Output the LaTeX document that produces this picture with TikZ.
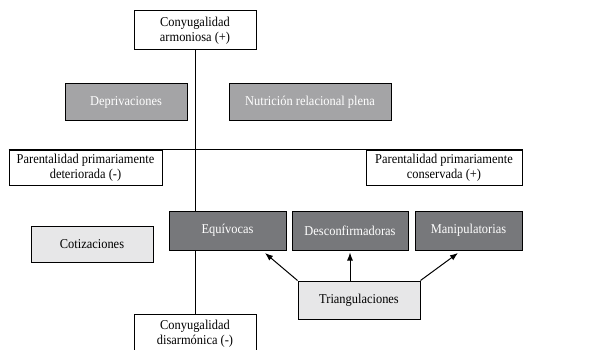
\documentclass[tikz,border=0pt]{standalone}
\usepackage{fontspec}
\setmainfont{Liberation Serif}[FakeStretch=0.92]
\usepackage{tikz}
\usetikzlibrary{positioning, arrows.meta}
\definecolor{midgray}{HTML}{A4A4A6}
\definecolor{darkgray}{HTML}{77787B}
\definecolor{lightgray}{HTML}{E7E7E8}
\tikzset{
  block/.style={rectangle, draw, line width=1pt, inner sep=0pt, align=center, font=\fontsize{13.5}{15}\selectfont},
  whiteblock/.style={block, fill=white},
  midblock/.style={block, fill=midgray, text=white},
  darkblock/.style={block, fill=darkgray, text=white},
  lightblock/.style={block, fill=lightgray},
  arrow/.style={-{Latex[length=8pt,width=6pt]}, line width=1pt},
}

\begin{document}
\begin{tikzpicture}[x=1pt, y=-1pt]
  \useasboundingbox (0,0) rectangle (602,350);

  % Conyugalidad axis
  \node[whiteblock, minimum width=122pt, minimum height=39pt] (armon) at (195,30.5) {Conyugalidad\\armoniosa (+)};
  \node[whiteblock, minimum width=122pt, minimum height=39pt] (disarm) at (195,333.5) {Conyugalidad\\disarmónica (-)};

  % Upper quadrants
  \node[midblock, minimum width=122pt, minimum height=37pt] (depriv) at (126,102.5) {Deprivaciones};
  \node[midblock, minimum width=162pt, minimum height=37pt] (nutric) at (310,102.5) {Nutrición relacional plena};

  % Parentalidad axis
  \node[whiteblock, minimum width=153pt, minimum height=35pt] (pdeter) at (85.5,167.5) {Parentalidad primariamente\\deteriorada (-)};
  \node[whiteblock, minimum width=156pt, minimum height=35pt] (pconse) at (444,167.5) {Parentalidad primariamente\\conservada (+)};

  % Lower quadrants
  \node[lightblock, minimum width=122pt, minimum height=36pt] (cotiz) at (92,244) {Cotizaciones};
  \node[darkblock, minimum width=117pt, minimum height=39pt] (equiv) at (227.5,230.5) {Equívocas};
  \node[darkblock, minimum width=116pt, minimum height=39pt] (descon) at (350,230.5) {Desconfirmadoras};
  \node[darkblock, minimum width=107pt, minimum height=39pt] (manip) at (468.5,230.5) {Manipulatorias};
  \node[lightblock, minimum width=122pt, minimum height=38pt] (triang) at (359,300) {Triangulaciones};

  % Axes
  \draw[line width=1pt] (armon.south) -- (armon.south |- equiv.north);
  \draw[line width=1pt] (armon.south |- equiv.south) -- (disarm.north);
  \draw[line width=1pt] (pdeter.north west) -- (pconse.north east);

  % Triangulation arrows
  \coordinate (equivtip) at (265,253);
  \coordinate (maniptip) at (458,253);
  \draw[arrow] (triang.north west) -- (equivtip);
  \draw[arrow, shorten >=2pt] (descon.south |- triang.north) -- (descon.south);
  \draw[arrow] (triang.north east) -- (maniptip);

\end{tikzpicture}
\end{document}
